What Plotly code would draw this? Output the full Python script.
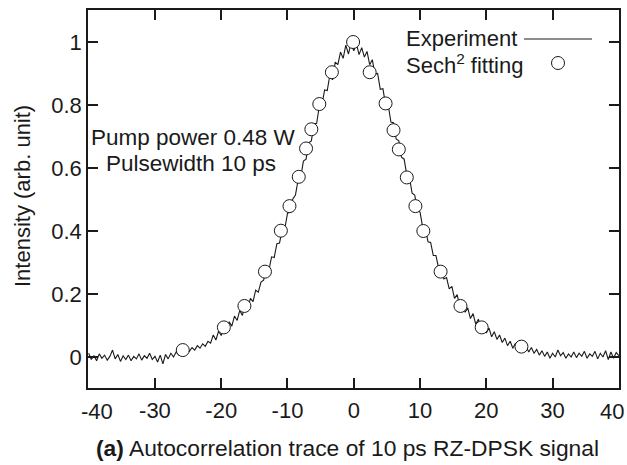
import plotly.graph_objects as go

delay_ps = [
    -40.0, -39.6, -39.2, -38.8, -38.4, -38.0, -37.6, -37.2, -36.8, -36.4,
    -36.0, -35.6, -35.2, -34.8, -34.4, -34.0, -33.6, -33.2, -32.8, -32.4,
    -32.0, -31.6, -31.2, -30.8, -30.4, -30.0, -29.6, -29.2, -28.8, -28.4,
    -28.0, -27.6, -27.2, -26.8, -26.4, -26.0, -25.6, -25.2, -24.8, -24.4,
    -24.0, -23.6, -23.2, -22.8, -22.4, -22.0, -21.6, -21.2, -20.8, -20.4,
    -20.0, -19.6, -19.2, -18.8, -18.4, -18.0, -17.6, -17.2, -16.8, -16.4,
    -16.0, -15.6, -15.2, -14.8, -14.4, -14.0, -13.6, -13.2, -12.8, -12.4,
    -12.0, -11.6, -11.2, -10.8, -10.4, -10.0, -9.6, -9.2, -8.8, -8.4,
    -8.0, -7.6, -7.2, -6.8, -6.4, -6.0, -5.6, -5.2, -4.8, -4.4,
    -4.0, -3.6, -3.2, -2.8, -2.4, -2.0, -1.6, -1.2, -0.8, -0.4,
    0.0, 0.4, 0.8, 1.2, 1.6, 2.0, 2.4, 2.8, 3.2, 3.6,
    4.0, 4.4, 4.8, 5.2, 5.6, 6.0, 6.4, 6.8, 7.2, 7.6,
    8.0, 8.4, 8.8, 9.2, 9.6, 10.0, 10.4, 10.8, 11.2, 11.6,
    12.0, 12.4, 12.8, 13.2, 13.6, 14.0, 14.4, 14.8, 15.2, 15.6,
    16.0, 16.4, 16.8, 17.2, 17.6, 18.0, 18.4, 18.8, 19.2, 19.6,
    20.0, 20.4, 20.8, 21.2, 21.6, 22.0, 22.4, 22.8, 23.2, 23.6,
    24.0, 24.4, 24.8, 25.2, 25.6, 26.0, 26.4, 26.8, 27.2, 27.6,
    28.0, 28.4, 28.8, 29.2, 29.6, 30.0, 30.4, 30.8, 31.2, 31.6,
    32.0, 32.4, 32.8, 33.2, 33.6, 34.0, 34.4, 34.8, 35.2, 35.6,
    36.0, 36.4, 36.8, 37.2, 37.6, 38.0, 38.4, 38.8, 39.2, 39.6,
    40.0,
]
intensity = [
    0.012, -0.008, 0.004, -0.012, 0.010, -0.004, 0.006, -0.010, 0.002, 0.022,
    -0.006, 0.008, -0.014, 0.004, -0.008, 0.006, -0.012, 0.002, -0.006, 0.010,
    -0.010, 0.004, -0.004, 0.012, -0.008, 0.002, -0.016, 0.006, -0.022, 0.008,
    -0.006, 0.012, 0.000, 0.016, 0.006, 0.020, 0.012, 0.026, 0.018, 0.030,
    0.022, 0.036, 0.028, 0.042, 0.034, 0.050, 0.044, 0.070, 0.054, 0.082,
    0.068, 0.096, 0.084, 0.112, 0.098, 0.130, 0.116, 0.148, 0.132, 0.166,
    0.150, 0.186, 0.176, 0.212, 0.206, 0.238, 0.244, 0.280, 0.276, 0.318,
    0.316, 0.360, 0.362, 0.404, 0.408, 0.456, 0.460, 0.502, 0.514, 0.562,
    0.570, 0.622, 0.628, 0.680, 0.686, 0.740, 0.742, 0.796, 0.800, 0.848,
    0.846, 0.896, 0.880, 0.936, 0.928, 0.968, 0.948, 0.990, 0.962, 0.996,
    0.972, 0.994, 0.960, 0.982, 0.952, 0.970, 0.928, 0.944, 0.898, 0.900,
    0.850, 0.852, 0.800, 0.800, 0.746, 0.744, 0.692, 0.686, 0.634, 0.628,
    0.578, 0.570, 0.520, 0.514, 0.466, 0.460, 0.412, 0.410, 0.366, 0.364,
    0.322, 0.322, 0.282, 0.284, 0.248, 0.252, 0.216, 0.224, 0.186, 0.198,
    0.160, 0.174, 0.142, 0.156, 0.122, 0.138, 0.104, 0.120, 0.090, 0.104,
    0.076, 0.092, 0.064, 0.080, 0.056, 0.070, 0.046, 0.060, 0.036, 0.050,
    0.028, 0.044, 0.024, 0.038, 0.022, 0.034, 0.016, 0.030, 0.012, 0.024,
    0.006, 0.020, 0.002, 0.016, -0.004, 0.012, 0.000, 0.022, 0.004, 0.014,
    -0.004, 0.010, 0.000, 0.016, -0.002, 0.012, 0.002, 0.018, -0.004, 0.010,
    0.002, 0.018, -0.006, 0.012, 0.000, 0.020, -0.008, 0.016, -0.004, 0.014,
    0.004,
]

# ---- sech^2 fitting points ----
fit_x = [-25.8, -19.6, -16.5, -13.4, -11.0, -9.7, -8.3, -7.2, -6.4, -5.2, -3.3, -0.1,
         2.4, 4.8, 6.0, 6.8, 8.0, 9.3, 10.5, 13.1, 16.1, 19.3, 25.3]
fit_y = [0.022, 0.094, 0.162, 0.271, 0.401, 0.479, 0.572, 0.662, 0.723, 0.803, 0.904, 1.0,
         0.904, 0.805, 0.720, 0.659, 0.570, 0.479, 0.400, 0.271, 0.162, 0.094, 0.033]

x_ticks = [-40, -30, -20, -10, 0, 10, 20, 30, 40]
x_tick_labels = ["-40", "-30", "-20", "-10", "0", "10", "20", "30", "40"]
y_ticks = [0, 0.2, 0.4, 0.6, 0.8, 1]
y_tick_labels = ["0", "0.2", "0.4", "0.6", "0.8", "1"]

FONT = "Liberation Sans, Arial, sans-serif"
INK = "#1a1a1a"
FS = 22

fig = go.Figure()
fig.add_trace(go.Scatter(x=delay_ps, y=intensity, mode="lines",
                         line=dict(color=INK, width=1.1), showlegend=False))
fig.add_trace(go.Scatter(x=fit_x, y=fit_y, mode="markers",
                         marker=dict(symbol="circle", size=13, color="white",
                                     line=dict(color=INK, width=1)),
                         showlegend=False))

axis_common = dict(showline=True, mirror="ticks", linecolor=INK, linewidth=1.5,
                   ticks="inside", ticklen=10, tickwidth=1.5, tickcolor=INK,
                   showgrid=False, zeroline=False, automargin=False,
                   tickfont=dict(family=FONT, size=FS, color=INK))

# the two edge x labels are nudged inward (as in the reference), so they are drawn as annotations
fig.update_xaxes(range=[-40.1, 40.02], tickvals=x_ticks[1:-1],
                 ticktext=x_tick_labels[1:-1], ticklabelstandoff=2, **axis_common)
fig.update_yaxes(range=[-0.0984, 1.1016], tickvals=y_ticks,
                 ticktext=y_tick_labels, **axis_common)

W, H = 627, 465
L, R, T, B = 88, 8, 10, 77
pw, ph = W - L - R, H - T - B


def px(xp):
    return (xp - L) / pw


def py(yp):
    return (H - B - yp) / ph


def note(text, x, y, size=FS, xanchor="center", **kw):
    return dict(text=text, x=x, y=y, xref="paper", yref="paper", showarrow=False,
                xanchor=xanchor, yanchor="middle", borderpad=0,
                font=dict(family=FONT, size=size, color=INK), **kw)


annotations = [
    note("Intensity (arb. unit)", px(22), py(196), textangle=-90),
    note("<b>(a)</b> Autocorrelation trace of 10 ps RZ-DPSK signal", px(347), py(448), size=22.8),
    note("Pump power 0.48 W", px(193.5), py(137), size=22.5),
    note("Pulsewidth 10 ps", px(191), py(163), size=22.5),
    note("Experiment", px(405), py(38), xanchor="left"),
    note("Sech<sup>2</sup> fitting", px(405), py(64), xanchor="left"),
    note(x_tick_labels[0], px(80), py(411), xanchor="left"),
    note(x_tick_labels[-1], px(625), py(411), xanchor="right"),
]

shapes = [
    dict(type="line", xref="paper", yref="paper", x0=px(524), x1=px(592),
         y0=py(39), y1=py(39), line=dict(color=INK, width=1)),
    dict(type="circle", xref="paper", yref="paper", x0=px(551.5), x1=px(564.5),
         y0=py(69.5), y1=py(56.5), line=dict(color=INK, width=1), fillcolor="white"),
]

fig.update_layout(width=W, height=H,
                  margin=dict(l=L, r=R, t=T, b=B, pad=0, autoexpand=False),
                  paper_bgcolor="white", plot_bgcolor="white",
                  annotations=annotations, shapes=shapes, showlegend=False)

fig.write_html("out.html", config={"displayModeBar": False},
               post_script="document.body.style.margin='0';document.body.style.overflow='hidden';")
